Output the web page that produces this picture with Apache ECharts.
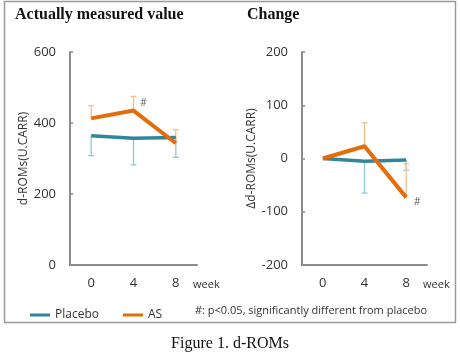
<!DOCTYPE html>
<html><head><meta charset="utf-8">
<script src="https://cdn.jsdelivr.net/npm/echarts@6/dist/echarts.min.js"></script>
<style>html,body{margin:0;padding:0;background:#fff}#c{width:460px;height:361px}</style>
</head><body><div id="c"></div>
<script>
const weeks = ['0', '4', '8'];
// Actually measured value
const placeboMean = [364, 357, 359];
const placeboLow = [308, 282, 303];
const asMean = [413, 435, 343];
const asHigh = [449, 475, 381];
const sigMeasured = ['', '#', ''];
// Change
const placeboChg = [0, -5, -3];
const placeboChgLow = [null, -65, -22];
const asChg = [0, 23, -73];
const asChgHigh = [null, 67, -10];
const sigChange = ['', '', '#'];

const cBlue = '#31869B', cOrange = '#E46C0A';
const cBlueLight = '#93C7D8', cOrangeLight = '#F6BE8A';
const axisGrey = '#8c8c8c';
const sans = '"Open Sans", "Noto Sans", sans-serif';
const serif = '"Liberation Serif", "Times New Roman", serif';

function errSeries(name, xi, yi, mean, ends, color) {
  const data = [];
  mean.forEach((m, i) => { if (ends[i] !== null) data.push([i, m, ends[i]]); });
  return {
    type: 'custom', name: name, xAxisIndex: xi, yAxisIndex: yi, z: 1, silent: true,
    data: data,
    renderItem: function (params, api) {
      const p1 = api.coord([api.value(0), api.value(1)]);
      const p2 = api.coord([api.value(0), api.value(2)]);
      const st = { stroke: color, lineWidth: 1.3 };
      return { type: 'group', children: [
        { type: 'line', shape: { x1: p1[0], y1: p1[1], x2: p2[0], y2: p2[1] }, style: st },
        { type: 'line', shape: { x1: p2[0] - 3, y1: p2[1], x2: p2[0] + 3, y2: p2[1] }, style: st }
      ]};
    }
  };
}
function lineSeries(name, xi, yi, vals, color, width) {
  return {
    type: 'line', name: name, xAxisIndex: xi, yAxisIndex: yi, z: 3,
    data: vals, symbol: 'none', showSymbol: false,
    lineStyle: { color: color, width: width }, itemStyle: { color: color },
    animation: false
  };
}
function sigSeries(xi, yi, vals, sig, offset) {
  const data = [];
  vals.forEach((v, i) => { if (sig[i] !== '') data.push([i, v, sig[i]]); });
  return {
    type: 'scatter', name: 'sig', xAxisIndex: xi, yAxisIndex: yi, z: 4, silent: true,
    data: data, symbolSize: 0.1, itemStyle: { color: 'rgba(0,0,0,0)' },
    label: { show: true, position: 'inside', offset: offset, formatter: p => p.value[2],
      color: '#333', fontSize: 10, fontFamily: sans }
  };
}
function xAx(gi) {
  return {
    type: 'category', gridIndex: gi, data: weeks, boundaryGap: true,
    axisLine: { onZero: false, lineStyle: { color: axisGrey, width: 2 } },
    axisTick: { inside: true, length: 3, lineStyle: { color: axisGrey, width: 1.5 } },
    axisLabel: { color: '#333', fontSize: 13, fontFamily: sans, margin: 12 },
    name: 'week', nameLocation: 'end', nameGap: -4,
    nameTextStyle: { color: '#333', fontSize: 11, fontFamily: sans, align: 'left', verticalAlign: 'top', padding: [14, 0, 0, 0] }
  };
}
function yAx(gi, min, max, iv, name, gap) {
  return {
    type: 'value', gridIndex: gi, min: min, max: max, interval: iv,
    splitLine: { show: false },
    axisLine: { show: true, lineStyle: { color: axisGrey, width: 2 } },
    axisTick: { show: true, inside: true, length: 3, lineStyle: { color: axisGrey, width: 1.5 } },
    axisLabel: { color: '#333', fontSize: 13, fontFamily: sans, margin: 14 },
    name: name, nameLocation: 'middle', nameGap: gap, nameRotate: 90,
    nameTextStyle: { color: '#333', fontSize: 12, fontFamily: sans }
  };
}

const chart = echarts.init(document.getElementById('c'), null, { renderer: 'canvas' });
chart.setOption({
  backgroundColor: '#fff',
  animation: false,
  grid: [
    { left: 70, top: 52, width: 127, height: 213 },
    { left: 302, top: 52, width: 125, height: 213 }
  ],
  xAxis: [xAx(0), xAx(1)],
  yAxis: [yAx(0, 0, 600, 200, 'd-ROMs(U.CARR)', 40), yAx(1, -200, 200, 100, 'Δd-ROMs(U.CARR)', 32)],
  legend: {
    left: 25, top: 304, itemWidth: 20, itemHeight: 3, itemGap: 24,
    data: [{ name: 'Placebo', icon: 'rect' }, { name: 'AS', icon: 'rect' }],
    textStyle: { color: '#333', fontSize: 12, fontFamily: sans }
  },
  graphic: [
    { type: 'rect', shape: { x: 4.5, y: 1.5, width: 451, height: 321 }, style: { fill: 'none', stroke: '#9a9a9a', lineWidth: 1.5 }, z: -1 },
    { type: 'text', left: 15, top: 7, style: { text: 'Actually measured value', font: 'bold 16px ' + serif, fill: '#111' } },
    { type: 'text', left: 247, top: 7, style: { text: 'Change', font: 'bold 16px ' + serif, fill: '#111' } },
    { type: 'text', left: 195, top: 305, style: { text: '#: p<0.05, significantly different from placebo', font: '11px ' + sans, fill: '#333' } },
    { type: 'text', left: 'center', top: 336, style: { text: 'Figure 1. d-ROMs', font: '16px ' + serif, fill: '#111' } }
  ],
  series: [
    errSeries('ePlacebo', 0, 0, placeboMean, placeboLow, cBlueLight),
    errSeries('eAS', 0, 0, asMean, asHigh, cOrangeLight),
    errSeries('ePlaceboChg', 1, 1, placeboChg, placeboChgLow, cBlueLight),
    errSeries('eASChg', 1, 1, asChg, asChgHigh, cOrangeLight),
    lineSeries('Placebo', 0, 0, placeboMean, cBlue, 3.5),
    lineSeries('AS', 0, 0, asMean, cOrange, 4),
    lineSeries('Placebo', 1, 1, placeboChg, cBlue, 3.5),
    lineSeries('AS', 1, 1, asChg, cOrange, 4),
    sigSeries(0, 0, asMean, sigMeasured, [10, -7]),
    sigSeries(1, 1, asChg, sigChange, [11, 5])
  ]
});
</script></body></html>
